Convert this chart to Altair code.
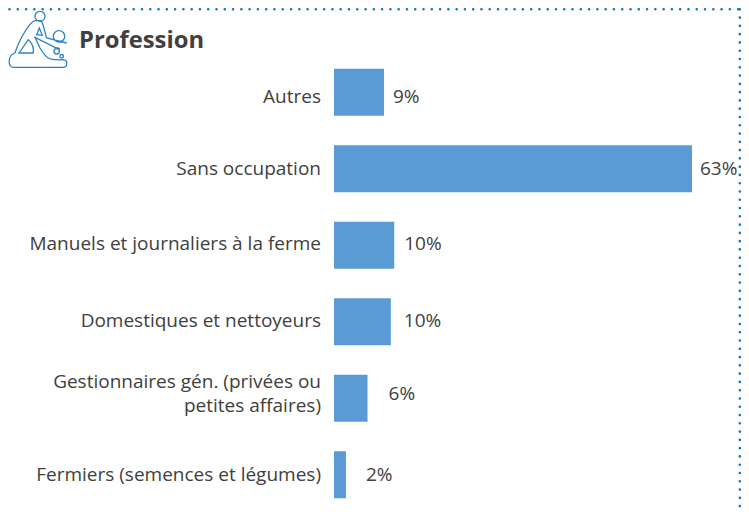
import altair as alt
import pandas as pd

categories = ["Autres", "Sans occupation", "Manuels et journaliers à la ferme",
              "Domestiques et nettoyeurs", "Gestionnaires gén. (privées ou|petites affaires)",
              "Fermiers (semences et légumes)"]
values = [8.8, 63, 10.6, 10, 5.9, 2.1]
labels = ["9%", "63%", "10%", "10%", "6%", "2%"]
label_gaps = [9, 8, 10, 13, 21, 20]
label_shift = [4.5, 0, -1, -1, -4, 0]
category_shift = [4.5, 0, -1, -1, -16, 0]

df = pd.DataFrame({"cat": categories, "v": values, "lab": labels})

L, T = 326, 46
W, H = 358, 459
TOTAL_W = 733
FONT = "Open Sans"
INK = "#404040"
SIZE = 19

y = alt.Y("cat:N", sort=categories, scale=alt.Scale(paddingInner=0.386, paddingOuter=0.193), axis=None)
x = alt.X("v:Q", scale=alt.Scale(domain=[0, 63], nice=False, zero=True), axis=None)

bars = alt.Chart(df).mark_bar(color="#5B9BD5").encode(x=x, y=y)

layers = [bars]
for i in range(len(categories)):
    row = alt.Chart(df.iloc[[i]])
    layers.append(
        row.mark_text(align="left", baseline="middle", dx=label_gaps[i], dy=label_shift[i], fontSize=SIZE,
                      color=INK, font=FONT)
        .encode(x=x, y=y, text="lab:N"))
    layers.append(
        row.mark_text(align="right", baseline="middle", dy=category_shift[i], fontSize=SIZE, color=INK, font=FONT,
                      lineBreak="|", lineHeight=23.5)
        .encode(x=alt.value(-13), y=y, text="cat:N"))

title = alt.Chart(df.iloc[[0]]).mark_text(text="Profession", align="left", baseline="middle", fontSize=23.8,
                                          fontWeight="bold", color=INK, font=FONT).encode(
    x=alt.value(79 - 8 - L), y=alt.value(41 - 8 - T))


def circle(cx, cy, r):
    return f"M{cx - r},{cy} a{r},{r} 0 1,0 {2 * r},0 a{r},{r} 0 1,0 {-2 * r},0 "


icon_path = (circle(2, -23.7, 5) + circle(21, -3.7, 5.7) + circle(18.7, 11.3, 2.7) + circle(23.7, 16.3, 1.8) +
             "M-3,-19.3 C-10,-17 -20,3 -23,13 C-30,15 -31,27 -24.7,27.3 L25.3,27.3 "
             "C30,27 30,20 25.3,19.7 C18,20 13,20 10.3,18 C7,16 5,13 2,8 L-3,-2.7 L17,7.3 L22,8.7 "
             "M-3,-19.3 L3,-19.3 C6,-15 7,-6 8.7,-2 L28.7,3 "
             "M-9.7,-0.3 L-19,13 L-4.7,13 C-4,8 -6,3 -9.7,-0.3 Z "
             "M1.3,-12 L-1.3,-5.3 L4.3,-4.7 Z")
icon = alt.Chart(df.iloc[[0]]).mark_point(shape=icon_path, size=4, filled=False, stroke="#2B83C6",
                                           strokeWidth=1.3, opacity=1).encode(
    x=alt.value(38 - 8 - L), y=alt.value(40 - 8 - T))

right_x = TOTAL_W - 1.2 - L
top_dots = alt.Chart(df.iloc[[0]]).mark_rule(color="#0E76BC", strokeWidth=2.6, strokeCap="round",
                                              strokeDash=[0.01, 8.27]).encode(
    x=alt.value(1.5 - L), x2=alt.value(right_x), y=alt.value(1.3 - T))
right_dots = alt.Chart(df.iloc[[0]]).mark_rule(color="#0E76BC", strokeWidth=2.6, strokeCap="round",
                                                strokeDash=[0.01, 8.27]).encode(
    x=alt.value(right_x), y=alt.value(1.3 - T), y2=alt.value(H + 1))

chart = alt.layer(*layers, title, icon, top_dots, right_dots).properties(
    width=W, height=H,
    padding={"left": L, "top": T, "right": TOTAL_W - L - W, "bottom": 2},
    autosize=alt.AutoSizeParams(type="none"),
    background="white",
).configure_view(stroke=None)

chart.save("out.html", embed_options={"renderer": "svg", "actions": False})
